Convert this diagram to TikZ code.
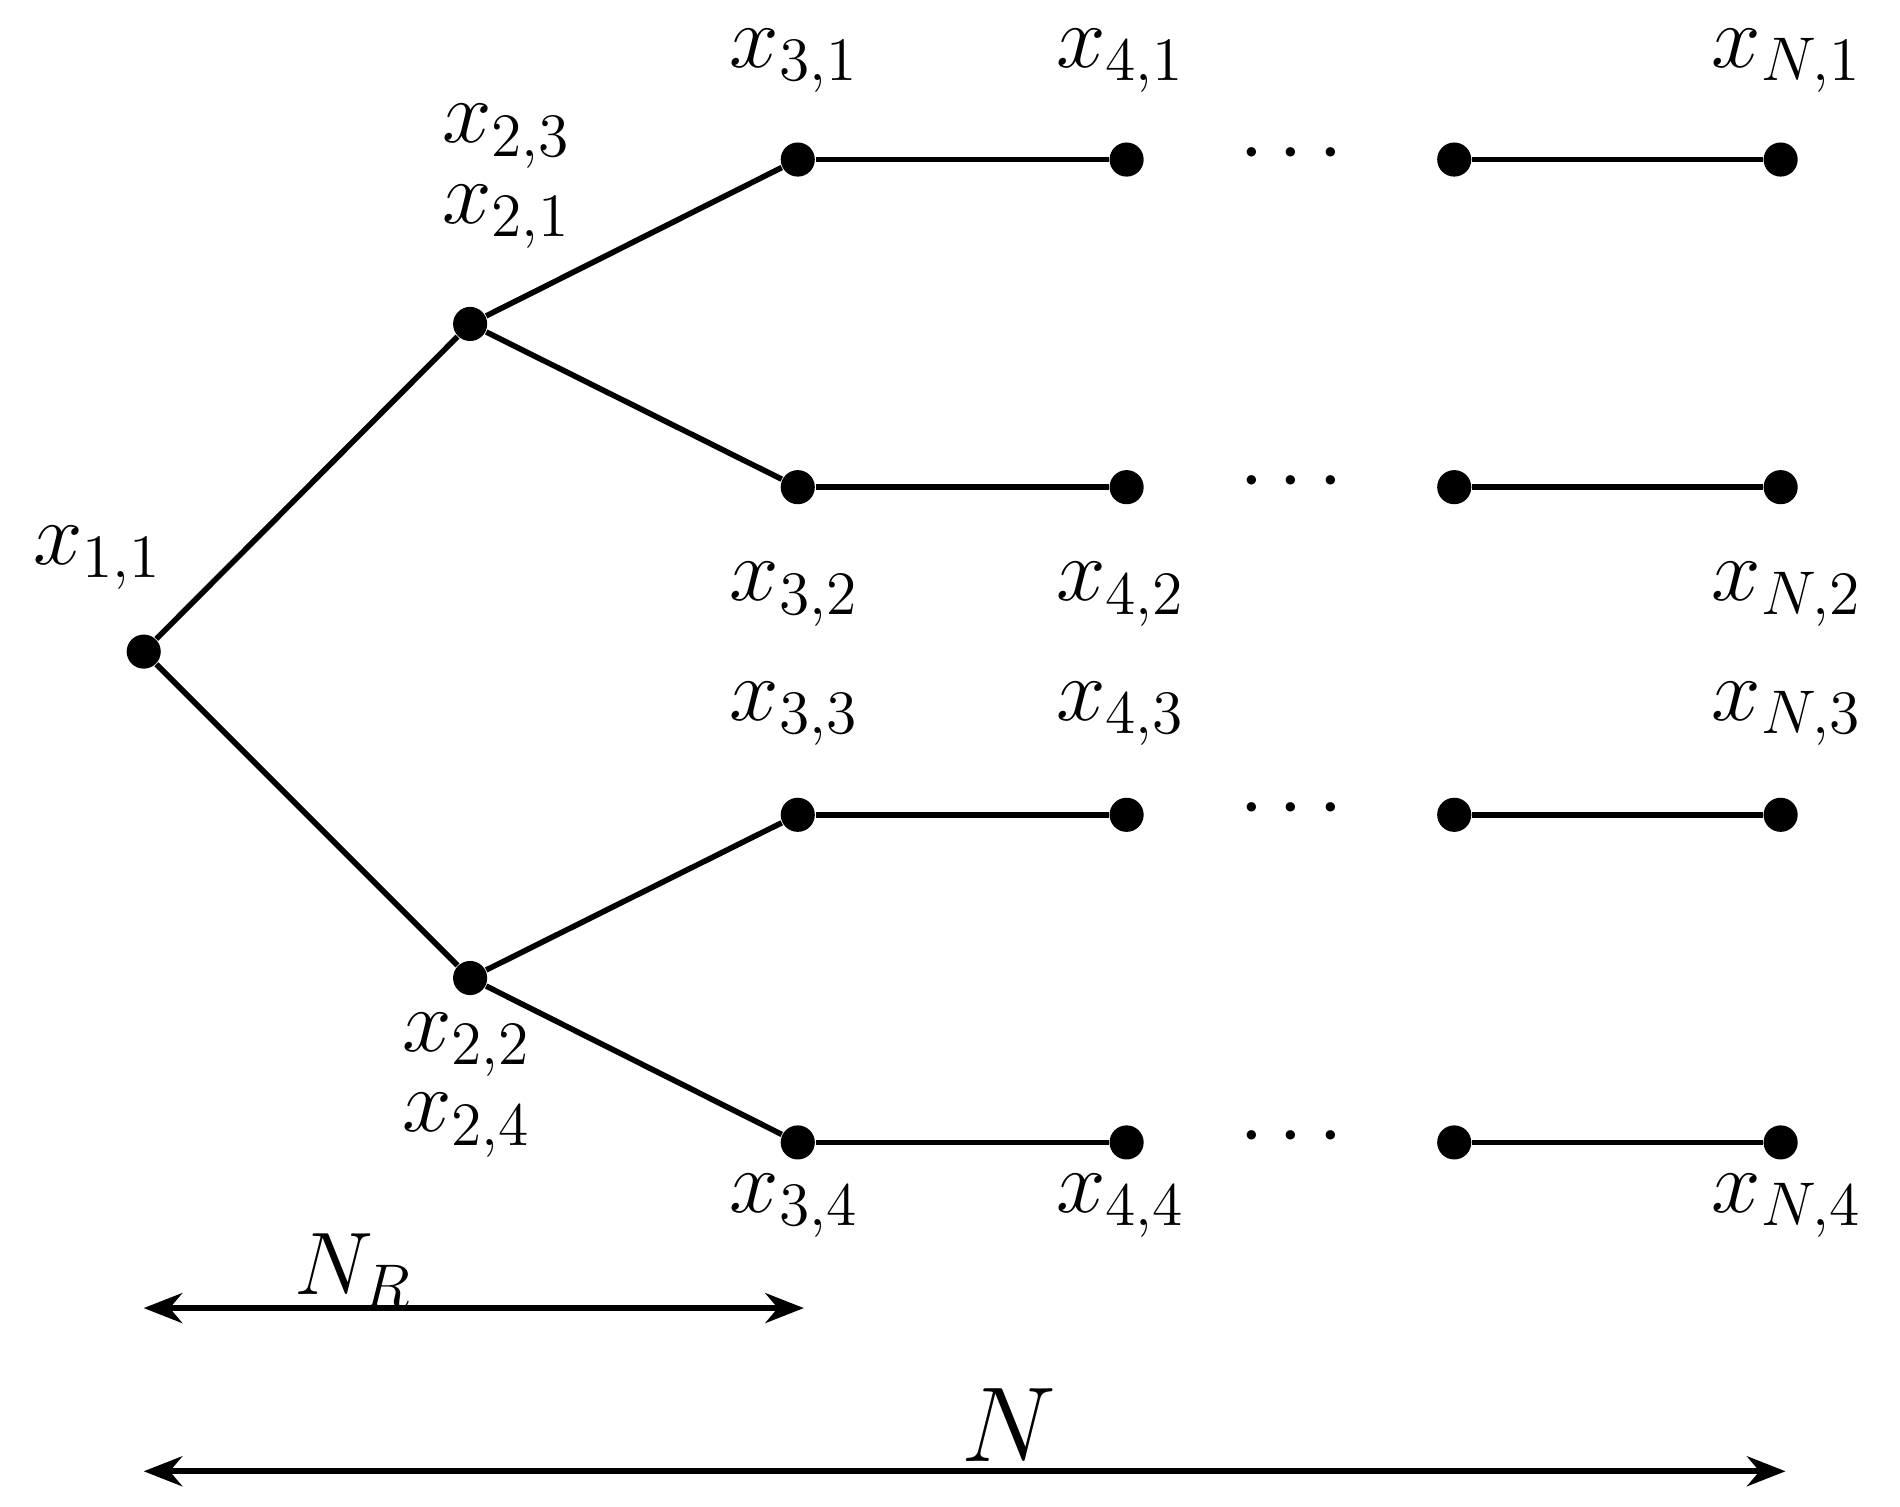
\documentclass[tikz,border=0pt]{standalone}
\usetikzlibrary{arrows.meta}
\begin{document}
\begin{tikzpicture}[x=0.01cm,y=-0.01cm,
  dot/.style={circle,fill=black,inner sep=0pt,minimum size=0.28cm},
  lbl/.style={font=\fontsize{21}{24}\selectfont},
  edge/.style={line width=1.3pt},
  dim/.style={line width=1.3pt,{Stealth[length=9pt,width=7pt]}-{Stealth[length=9pt,width=7pt]}}]
\useasboundingbox (0,0) rectangle (1560,1237);
\node[dot] (a) at (118,535) {};
\node[dot] (b1) at (386,266) {};
\node[dot] (b2) at (386,803) {};
\foreach \i/\y in {1/131,2/400,3/669,4/938}{
  \node[dot] (c\i) at (655,\y) {};
  \node[dot] (d\i) at (925,\y) {};
  \node[dot] (e\i) at (1194,\y) {};
  \node[dot] (f\i) at (1462,\y) {};
  \node[lbl] (dots\i) at (1060,\y-4) {$\cdots$};
  \draw[edge] (c\i) -- (d\i);
  \draw[edge] (e\i) -- (f\i);
}
\draw[edge] (a) -- (b1); \draw[edge] (a) -- (b2);
\draw[edge] (b1) -- (c1); \draw[edge] (b1) -- (c2);
\draw[edge] (b2) -- (c3); \draw[edge] (b2) -- (c4);
\node[lbl] (l11) at (80,458) {$x_{1,1}$};
\node[lbl] (l23) at (416,112) {$x_{2,3}$};
\node[lbl] (l21) at (416,178) {$x_{2,1}$};
\node[lbl] (l22) at (383,858) {$x_{2,2}$};
\node[lbl] (l24) at (383,924) {$x_{2,4}$};
\foreach \i/\y in {1/50,2/488,3/586,4/990}{
  \node[lbl] (lc\i) at (652,\y) {$x_{3,\i}$};
  \node[lbl] (ld\i) at (920,\y) {$x_{4,\i}$};
  \node[lbl] (lf\i) at (1467,\y) {$x_{N,\i}$};
}
\coordinate (nr1) at (118,1074); \coordinate (nr2) at (660,1074);
\draw[dim] (nr1) -- (nr2);
\node[lbl] (lnr) at (290,1043) {$N_R$};
\coordinate (n1) at (118,1208); \coordinate (n2) at (1466,1208);
\draw[dim] (n1) -- (n2);
\node[lbl,font=\fontsize{26}{30}\selectfont] (ln) at (828,1170) {$N$};
\end{tikzpicture}
\end{document}
